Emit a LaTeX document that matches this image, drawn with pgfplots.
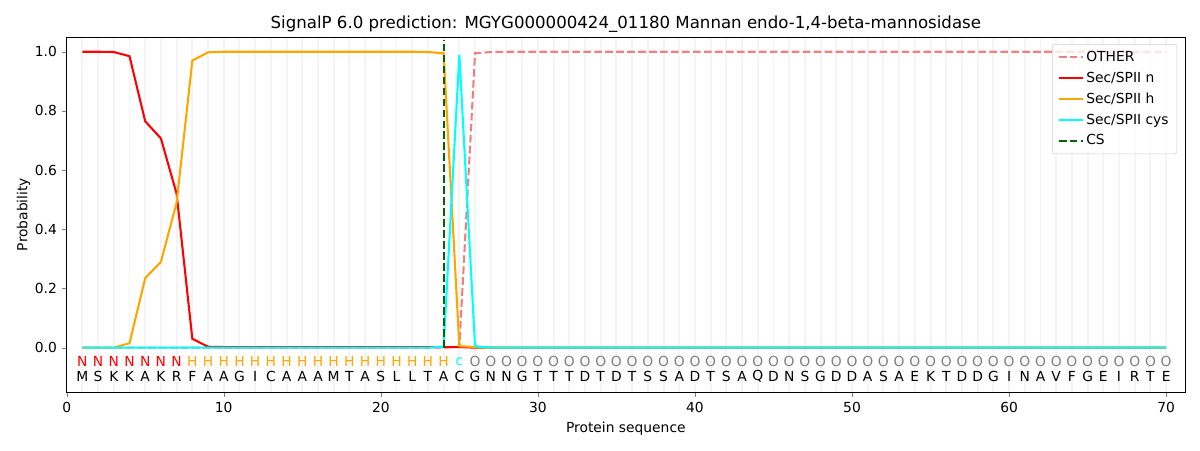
\documentclass[border=0pt]{standalone}
\usepackage{pgfplots}
\pgfplotsset{compat=1.18}
\usepackage{fontspec}
\setmainfont{DejaVu Sans}
\definecolor{lightcoral}{HTML}{F08080}
\definecolor{mplorange}{HTML}{FFA500}
\definecolor{mplcyan}{HTML}{00FFFF}
\definecolor{darkgreen}{HTML}{006400}
\definecolor{gridgray}{HTML}{F4F4F4}
\begin{document}
\begin{tikzpicture}
\path[use as bounding box] (-48bp,-41.8bp) rectangle (815.8bp,282.2bp);
\begin{axis}[
  scale only axis, width=805bp, height=255.6bp,
  xmin=0, xmax=71.2, ymin=-0.15, ymax=1.05,
  xtick={0,10,...,70},
  ytick={0,0.2,...,1.0},
  minor xtick={1,...,70},
  xminorgrids=true,
  minor grid style={gridgray, line width=1.4bp},
  minor tick length=0pt,
  major tick length=3.5pt,
  tick align=outside,
  xtick pos=bottom, ytick pos=left,
  yticklabel style={/pgf/number format/.cd, fixed, fixed zerofill, precision=1},
  /pgf/number format/assume math mode=true,
  tick label style={font=\fontsize{10}{12}\selectfont},
  label style={font=\fontsize{10}{12}\selectfont},
  xlabel={Protein sequence}, ylabel={Probability},
  xlabel style={yshift=0pt},
  ylabel style={yshift=-3.5pt},
  title={SignalP 6.0 prediction: MGYG000000424\_01180 Mannan endo-1,4-beta-mannosidase},
  title style={font=\fontsize{12}{14}\selectfont, yshift=-6.5pt},
  legend style={at={(0.993,0.98)}, anchor=north east, draw=black!20, rounded corners=2pt,
    fill=white, fill opacity=0.8, text opacity=1, draw opacity=1,
    font=\fontsize{10}{12}\selectfont, row sep=2.1pt, inner xsep=4pt, inner ysep=3pt},
  legend cell align=left,
  every axis plot/.append style={line width=1.5bp},
]
\addplot[lightcoral, dashed, dash pattern=on 5.5bp off 2.4bp] table {
x y
1 0
2 0
3 0
4 0
5 0
6 0
7 0
8 0
9 0
10 0
11 0
12 0
13 0
14 0
15 0
16 0
17 0
18 0
19 0
20 0
21 0
22 0
23 0
24 0
25 0.003
26 0.995
27 0.999
28 1
70 1
};
\addlegendentry{OTHER}
\addplot[red] table {
x y
1 1.0
2 1.0
3 0.999
4 0.985
5 0.765
6 0.707
7 0.52
8 0.03
9 0.003
10 0.002
23 0.002
24 0.002
25 0.002
26 0
70 0
};
\addlegendentry{Sec/SPII n}
\addplot[mplorange] table {
x y
1 0
2 0
3 0
4 0.015
5 0.235
6 0.29
7 0.49
8 0.97
9 0.998
10 1.0
22 1.0
23 0.999
24 0.995
25 0.005
26 0.002
27 0
70 0
};
\addlegendentry{Sec/SPII h}
\addplot[mplcyan] table {
x y
1 0
23 0
24 0.003
25 0.99
26 0.005
27 0
70 0
};
\addlegendentry{Sec/SPII cys}
\addplot[darkgreen, dashed, dash pattern=on 5.5bp off 2.4bp] table {
x y
24 0
24 1.04
};
\addlegendentry{CS}
% region labels
\pgfplotsset{every node near coord/.style={anchor=center, font=\fontsize{10}{12}\selectfont}}
\addplot[only marks, mark=none, nodes near coords, point meta=explicit symbolic,
  every node near coord/.append style={text=red}, forget plot] table[meta=l] {
x y l
1 -0.047 N
2 -0.047 N
3 -0.047 N
4 -0.047 N
5 -0.047 N
6 -0.047 N
7 -0.047 N
};
\addplot[only marks, mark=none, nodes near coords, point meta=explicit symbolic,
  every node near coord/.append style={text=mplorange}, forget plot] table[meta=l] {
x y l
8 -0.047 H
9 -0.047 H
10 -0.047 H
11 -0.047 H
12 -0.047 H
13 -0.047 H
14 -0.047 H
15 -0.047 H
16 -0.047 H
17 -0.047 H
18 -0.047 H
19 -0.047 H
20 -0.047 H
21 -0.047 H
22 -0.047 H
23 -0.047 H
24 -0.047 H
};
\addplot[only marks, mark=none, nodes near coords, point meta=explicit symbolic,
  every node near coord/.append style={text=mplcyan}, forget plot] table[meta=l] {
x y l
25 -0.047 c
};
\addplot[only marks, mark=none, nodes near coords, point meta=explicit symbolic,
  every node near coord/.append style={text=gray}, forget plot] table[meta=l] {
x y l
26 -0.047 O
27 -0.047 O
28 -0.047 O
29 -0.047 O
30 -0.047 O
31 -0.047 O
32 -0.047 O
33 -0.047 O
34 -0.047 O
35 -0.047 O
36 -0.047 O
37 -0.047 O
38 -0.047 O
39 -0.047 O
40 -0.047 O
41 -0.047 O
42 -0.047 O
43 -0.047 O
44 -0.047 O
45 -0.047 O
46 -0.047 O
47 -0.047 O
48 -0.047 O
49 -0.047 O
50 -0.047 O
51 -0.047 O
52 -0.047 O
53 -0.047 O
54 -0.047 O
55 -0.047 O
56 -0.047 O
57 -0.047 O
58 -0.047 O
59 -0.047 O
60 -0.047 O
61 -0.047 O
62 -0.047 O
63 -0.047 O
64 -0.047 O
65 -0.047 O
66 -0.047 O
67 -0.047 O
68 -0.047 O
69 -0.047 O
70 -0.047 O
};
\addplot[only marks, mark=none, nodes near coords, point meta=explicit symbolic,
  every node near coord/.append style={text=black}, forget plot] table[meta=l] {
x y l
1 -0.098 M
2 -0.098 S
3 -0.098 K
4 -0.098 K
5 -0.098 A
6 -0.098 K
7 -0.098 R
8 -0.098 F
9 -0.098 A
10 -0.098 A
11 -0.098 G
12 -0.098 I
13 -0.098 C
14 -0.098 A
15 -0.098 A
16 -0.098 A
17 -0.098 M
18 -0.098 T
19 -0.098 A
20 -0.098 S
21 -0.098 L
22 -0.098 L
23 -0.098 T
24 -0.098 A
25 -0.098 C
26 -0.098 G
27 -0.098 N
28 -0.098 N
29 -0.098 G
30 -0.098 T
31 -0.098 T
32 -0.098 T
33 -0.098 D
34 -0.098 T
35 -0.098 D
36 -0.098 T
37 -0.098 S
38 -0.098 S
39 -0.098 A
40 -0.098 D
41 -0.098 T
42 -0.098 S
43 -0.098 A
44 -0.098 Q
45 -0.098 D
46 -0.098 N
47 -0.098 S
48 -0.098 G
49 -0.098 D
50 -0.098 D
51 -0.098 A
52 -0.098 S
53 -0.098 A
54 -0.098 E
55 -0.098 K
56 -0.098 T
57 -0.098 D
58 -0.098 D
59 -0.098 G
60 -0.098 I
61 -0.098 N
62 -0.098 A
63 -0.098 V
64 -0.098 F
65 -0.098 G
66 -0.098 E
67 -0.098 I
68 -0.098 R
69 -0.098 T
70 -0.098 E
};
\end{axis}
\end{tikzpicture}
\end{document}
